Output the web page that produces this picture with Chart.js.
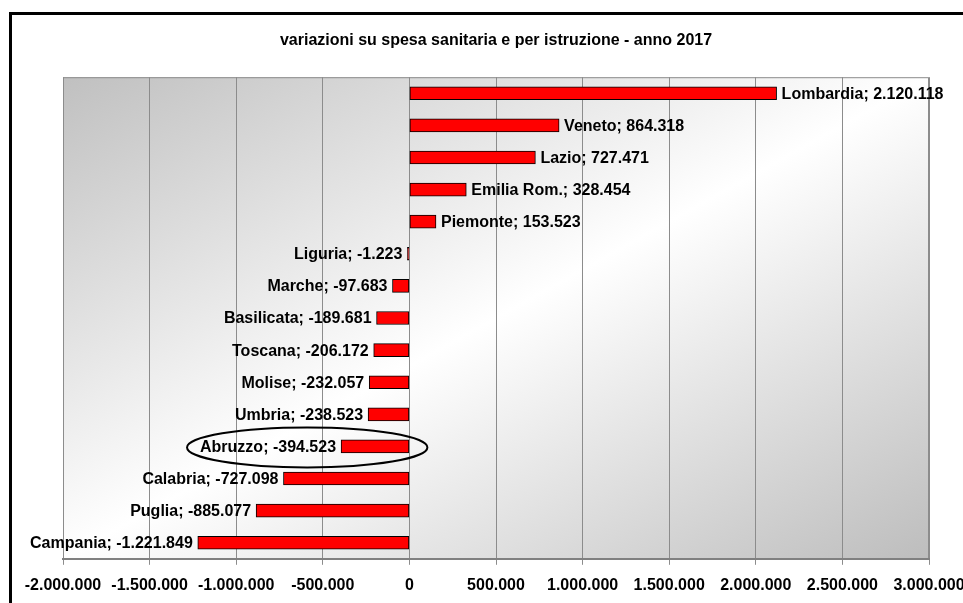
<!DOCTYPE html>
<html>
<head>
<meta charset="utf-8">
<script src="https://cdn.jsdelivr.net/npm/chart.js@4"></script>
<style>
  body { margin: 0; overflow: hidden; background: #fff; }
  #wrap { width: 1000px; height: 606px; }
</style>
</head>
<body>
<div id="wrap"><canvas id="chart" width="1000" height="606"></canvas></div>
<script>
const regions = ["Lombardia", "Veneto", "Lazio", "Emilia Rom.", "Piemonte", "Liguria", "Marche",
  "Basilicata", "Toscana", "Molise", "Umbria", "Abruzzo", "Calabria", "Puglia", "Campania"];
const variations = [2120118, 864318, 727471, 328454, 153523, -1223, -97683,
  -189681, -206172, -232057, -238523, -394523, -727098, -885077, -1221849];
const xMin = -2000000;
const xMax = 3000000;
const xStep = 500000;
const chartTitle = "variazioni su spesa sanitaria e per istruzione - anno 2017";
const highlighted = "Abruzzo";

const FONT = "Arial, 'Liberation Sans', sans-serif";

// italian thousands separator
const fmt = (n) => (n < 0 ? "-" : "") + Math.abs(n).toString().replace(/\B(?=(\d{3})+(?!\d))/g, ".");

const background = {
  id: "background",
  beforeDraw: (chart) => {
    const { ctx, chartArea: a } = chart;
    ctx.save();
    ctx.fillStyle = "#fff";
    ctx.fillRect(0, 0, chart.width, chart.height);

    // diagonal gradient: gray corners top-left / bottom-right, light band across
    const w = a.right - a.left;
    const h = a.bottom - a.top;
    const cx = a.left + w / 2;
    const cy = a.top + h / 2;
    const len = Math.hypot(w, h);
    const ux = h / len;
    const uy = w / len;
    const d = (w / 2) * ux + (h / 2) * uy;
    const g = ctx.createLinearGradient(cx - d * ux, cy - d * uy, cx + d * ux, cy + d * uy);
    g.addColorStop(0, "#c0c0c0");
    g.addColorStop(0.5, "#ffffff");
    g.addColorStop(1, "#bdbdbd");
    ctx.fillStyle = g;
    ctx.fillRect(a.left, a.top, w, h);

    ctx.strokeStyle = "#8c8c8c";
    ctx.lineWidth = 1;
    ctx.strokeRect(a.left + 0.5, a.top + 0.5, w - 1, h);

    // outer frame
    ctx.strokeStyle = "#000";
    ctx.lineWidth = 3;
    ctx.strokeRect(10.5, 13.5, 2000, 2000);
    ctx.restore();
  },
};

const barLabels = {
  id: "barLabels",
  afterDatasetsDraw: (chart) => {
    const { ctx } = chart;
    const meta = chart.getDatasetMeta(0);
    const xScale = chart.scales.x;
    ctx.save();
    ctx.font = "bold 16px " + FONT;
    ctx.fillStyle = "#000";
    ctx.textBaseline = "middle";
    meta.data.forEach((bar, i) => {
      const v = variations[i];
      const text = regions[i] + "; " + fmt(v);
      if (v >= 0) {
        ctx.textAlign = "left";
        ctx.fillText(text, bar.x + 5, bar.y + 1);
      } else {
        ctx.textAlign = "right";
        ctx.fillText(text, bar.x - 5, bar.y + 1);
      }
      if (regions[i] === highlighted) {
        const textLeft = bar.x - 5 - ctx.measureText(text).width;
        const right = xScale.getPixelForValue(0) + 18;
        const left = textLeft - 13;
        ctx.beginPath();
        ctx.ellipse((left + right) / 2, bar.y + 1, (right - left) / 2, 20, 0, 0, Math.PI * 2);
        ctx.lineWidth = 2;
        ctx.strokeStyle = "#000";
        ctx.stroke();
      }
    });
    ctx.restore();
  },
};

new Chart(document.querySelector("#chart"), {
  type: "bar",
  data: {
    labels: regions,
    datasets: [
      {
        data: variations,
        backgroundColor: "#ff0000",
        borderColor: "#000",
        borderWidth: 1,
        borderSkipped: false,
        barThickness: 13,
        minBarLength: 2,
      },
    ],
  },
  options: {
    indexAxis: "y",
    responsive: false,
    animation: false,
    layout: { padding: { left: 63, right: 71, top: 30, bottom: 0 } },
    plugins: {
      legend: { display: false },
      tooltip: { enabled: false },
      title: {
        display: true,
        text: chartTitle,
        color: "#000",
        font: { family: FONT, size: 16, weight: "bold" },
        padding: { top: 1, bottom: 27 },
      },
    },
    scales: {
      x: {
        min: xMin,
        max: xMax,
        ticks: {
          stepSize: xStep,
          callback: (v) => fmt(v),
          color: "#000",
          font: { family: FONT, size: 16, weight: "bold" },
          padding: 11,
          maxRotation: 0,
          autoSkip: false,
        },
        grid: { color: "#8c8c8c", lineWidth: 1, tickLength: 6, drawTicks: true },
        border: { color: "#808080", width: 2 },
      },
      y: { display: false },
    },
  },
  plugins: [background, barLabels],
});
</script>
</body>
</html>
